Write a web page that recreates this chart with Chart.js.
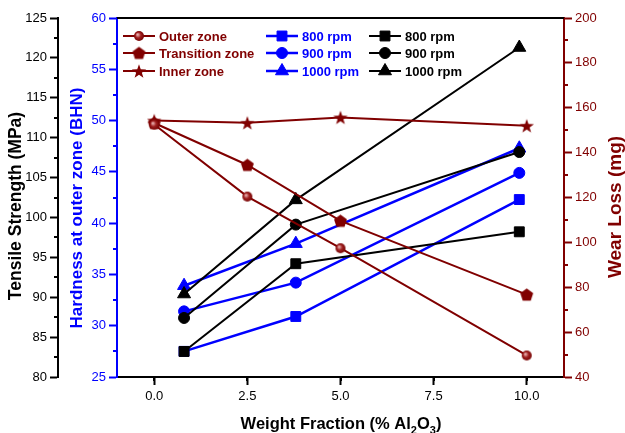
<!DOCTYPE html>
<html>
<head>
<meta charset="utf-8">
<script src="https://cdn.jsdelivr.net/npm/chart.js@4.4.0/dist/chart.umd.min.js"></script>
<style>
    html, body { margin: 0; padding: 0; background: #fff; }
    #wrap { width: 625px; height: 433px; }
</style>
</head>
<body>
<div id="wrap"><canvas id="chart" width="625" height="433"></canvas></div>
<script>
// Datos
const wearX = [0, 2.5, 5, 10];
const rpmX = [0.8, 3.8, 9.8];
const outerZone = [152.5, 120.4, 97.4, 49.6];
const transitionZone = [153.2, 134.5, 109.6, 76.7];
const innerZone = [154.3, 153.3, 155.7, 152.0];
const hard800 = [27.5, 30.9, 42.3];
const hard900 = [31.4, 34.2, 44.9];
const hard1000 = [33.9, 38.0, 47.3];
const ts800 = [83.2, 94.2, 98.2];
const ts900 = [87.4, 99.1, 108.2];
const ts1000 = [90.4, 102.2, 121.3];
const xTicks = [0, 2.5, 5, 7.5, 10];

const FONT = 'Liberation Sans, Arial, sans-serif';
const MAROON = '#800000';
const BLUE = '#0000ff';
const BLACK = '#000000';

// Marcadores propios (esfera, pentagono, estrella)
function makeMarker(size, draw) {
    const c = document.createElement('canvas');
    c.width = size;
    c.height = size;
    draw(c.getContext('2d'), size / 2);
    return c;
}

const sphere = makeMarker(12, (g, c) => {
    const grad = g.createRadialGradient(c - 1.5, c - 1.5, 0.5, c, c, 5.5);
    grad.addColorStop(0, '#e8b0b0');
    grad.addColorStop(0.45, '#a02020');
    grad.addColorStop(1, '#700000');
    g.fillStyle = grad;
    g.beginPath();
    g.arc(c, c, 5, 0, Math.PI * 2);
    g.fill();
});

const pentagon = makeMarker(15, (g, c) => {
    g.fillStyle = MAROON;
    g.beginPath();
    for (let i = 0; i < 5; i++) {
        const a = -Math.PI / 2 + i * 2 * Math.PI / 5;
        const px = c + 6.8 * Math.cos(a);
        const py = c + 0.5 + 6.8 * Math.sin(a);
        if (i === 0) g.moveTo(px, py); else g.lineTo(px, py);
    }
    g.closePath();
    g.fill();
});

const star = makeMarker(16, (g, c) => {
    g.fillStyle = MAROON;
    g.beginPath();
    for (let i = 0; i < 10; i++) {
        const a = -Math.PI / 2 + i * Math.PI / 5;
        const r = i % 2 === 0 ? 7.5 : 3;
        const px = c + r * Math.cos(a);
        const py = c + 0.8 + r * Math.sin(a);
        if (i === 0) g.moveTo(px, py); else g.lineTo(px, py);
    }
    g.closePath();
    g.fill();
});

function pts(xs, ys) {
    return xs.map((x, i) => ({ x: x, y: ys[i] }));
}

function serie(label, xs, ys, color, style, radius, width, axis, order) {
    return {
        label: label,
        data: pts(xs, ys),
        borderColor: color,
        backgroundColor: color,
        borderWidth: width,
        pointStyle: style,
        pointRadius: radius,
        pointHoverRadius: radius,
        pointBorderWidth: 1,
        tension: 0,
        fill: false,
        yAxisID: axis,
        order: order
    };
}

const datasets = [
    serie('Outer zone', wearX, outerZone, MAROON, sphere, 5, 2, 'yWear', 0),
    serie('Transition zone', wearX, transitionZone, MAROON, pentagon, 6, 2, 'yWear', 0),
    serie('Inner zone', wearX, innerZone, MAROON, star, 6, 2, 'yWear', 0),
    serie('800 rpm', rpmX, hard800, BLUE, 'rect', 7, 2.5, 'yHard', 2),
    serie('900 rpm', rpmX, hard900, BLUE, 'circle', 5.5, 2.5, 'yHard', 2),
    serie('1000 rpm', rpmX, hard1000, BLUE, 'triangle', 7.5, 2.5, 'yHard', 2),
    serie('800 rpm', rpmX, ts800, BLACK, 'rect', 7, 2, 'yTS', 1),
    serie('900 rpm', rpmX, ts900, BLACK, 'circle', 5.5, 2, 'yTS', 1),
    serie('1000 rpm', rpmX, ts1000, BLACK, 'triangle', 7.5, 2, 'yTS', 1)
];

function verticalTitle(ctx, text, x, y, color, size) {
    ctx.save();
    ctx.translate(x, y);
    ctx.rotate(-Math.PI / 2);
    ctx.fillStyle = color;
    ctx.font = 'bold ' + size + 'px ' + FONT;
    ctx.textAlign = 'center';
    ctx.textBaseline = 'middle';
    ctx.fillText(text, 0, 0);
    ctx.restore();
}

// Ticks menores, borde superior, titulos y leyenda
const extras = {
    id: 'extras',
    afterDraw(chart) {
        const ctx = chart.ctx;
        const area = chart.chartArea;
        ctx.save();

        const minor = [
            ['yTS', 2.5, BLACK, 'left'],
            ['yHard', 2.5, BLUE, 'left'],
            ['yWear', 10, MAROON, 'right'],
            ['x', 1.25, BLACK, 'bottom']
        ];
        minor.forEach(([id, step, color, side]) => {
            const s = chart.scales[id];
            ctx.strokeStyle = color;
            ctx.lineWidth = 2;
            const start = id === 'x' ? -1.25 : s.min;
            for (let v = start + step; v < s.max; v += 2 * step) {
                if (v < s.min) continue;
                const p = Math.round(s.getPixelForValue(v));
                ctx.beginPath();
                if (side === 'left') { ctx.moveTo(s.right - 4, p); ctx.lineTo(s.right, p); }
                else if (side === 'right') { ctx.moveTo(s.left, p); ctx.lineTo(s.left + 4, p); }
                else { ctx.moveTo(p, s.top); ctx.lineTo(p, s.top + 4); }
                ctx.stroke();
            }
        });

        // borde superior
        ctx.strokeStyle = BLACK;
        ctx.lineWidth = 2;
        ctx.beginPath();
        ctx.moveTo(area.left, area.top);
        ctx.lineTo(area.right, area.top);
        ctx.stroke();

        // titulos de los ejes
        verticalTitle(ctx, 'Tensile Strength (MPa)', 16.5, 206, BLACK, 17.5);
        verticalTitle(ctx, 'Hardness at outer zone (BHN)', 77.5, 208, BLUE, 17);
        verticalTitle(ctx, 'Wear Loss (mg)', 616, 207, MAROON, 19);

        // titulo del eje x con subindices
        const parts = [
            ['Weight Fraction (% Al', 16.5, 0],
            ['2', 11, 5],
            ['O', 16.5, 0],
            ['3', 11, 5],
            [')', 16.5, 0]
        ];
        ctx.fillStyle = BLACK;
        ctx.textAlign = 'left';
        ctx.textBaseline = 'alphabetic';
        let total = 0;
        parts.forEach(([t, size]) => {
            ctx.font = 'bold ' + size + 'px ' + FONT;
            total += ctx.measureText(t).width;
        });
        let tx = 341 - total / 2;
        parts.forEach(([t, size, dy]) => {
            ctx.font = 'bold ' + size + 'px ' + FONT;
            ctx.fillText(t, tx, 429 + dy);
            tx += ctx.measureText(t).width;
        });

        // leyenda en tres columnas
        const cols = [123, 266, 369];
        const rows = [36, 53, 71];
        const textColors = [MAROON, BLUE, BLACK];
        ctx.font = 'bold 13px ' + FONT;
        ctx.textAlign = 'left';
        ctx.textBaseline = 'middle';
        datasets.forEach((ds, i) => {
            const col = Math.floor(i / 3);
            const x0 = cols[col];
            const y0 = rows[i % 3];
            ctx.strokeStyle = ds.borderColor;
            ctx.fillStyle = ds.borderColor;
            ctx.lineWidth = ds.borderWidth;
            ctx.beginPath();
            ctx.moveTo(x0, y0);
            ctx.lineTo(x0 + 32, y0);
            ctx.stroke();
            ctx.lineWidth = 1;
            Chart.helpers.drawPoint(ctx, {
                pointStyle: ds.pointStyle,
                radius: ds.pointRadius,
                borderWidth: 1,
                rotation: 0
            }, x0 + 16, y0);
            ctx.fillStyle = textColors[col];
            ctx.fillText(ds.label, x0 + 36, y0 + 1);
        });

        ctx.restore();
    }
};

function yAxis(pos, min, max, step, color, width, weight) {
    return {
        type: 'linear',
        position: pos,
        weight: weight,
        min: min,
        max: max,
        ticks: {
            stepSize: step,
            color: color,
            padding: 3,
            font: { family: FONT, size: 13 }
        },
        grid: { drawOnChartArea: false, color: color, tickLength: 8, tickWidth: 2 },
        border: { display: true, color: color, width: 2 },
        afterFit: s => { s.width = width; }
    };
}

const ctx = document.getElementById('chart').getContext('2d');
new Chart(ctx, {
    type: 'line',
    data: { datasets: datasets },
    options: {
        responsive: false,
        animation: false,
        devicePixelRatio: 1,
        layout: { padding: { top: 18, left: 0, right: 0, bottom: 0 } },
        plugins: {
            legend: { display: false },
            tooltip: { enabled: false }
        },
        scales: {
            x: {
                type: 'linear',
                position: 'bottom',
                min: -1,
                max: 11,
                afterBuildTicks: s => { s.ticks = xTicks.map(v => ({ value: v })); },
                ticks: {
                    color: BLACK,
                    padding: 4,
                    autoSkip: false,
                    maxRotation: 0,
                    font: { family: FONT, size: 13 },
                    callback: v => Number(v).toFixed(1)
                },
                grid: { drawOnChartArea: false, color: BLACK, tickLength: 8, tickWidth: 2 },
                border: { display: true, color: BLACK, width: 2 },
                afterFit: s => { s.height = 56; }
            },
            yTS: yAxis('left', 80, 125, 5, BLACK, 58, 1),
            yHard: yAxis('left', 25, 60, 5, BLUE, 59, 0),
            yWear: yAxis('right', 40, 200, 20, MAROON, 61, 0)
        }
    },
    plugins: [extras]
});
</script>
</body>
</html>
